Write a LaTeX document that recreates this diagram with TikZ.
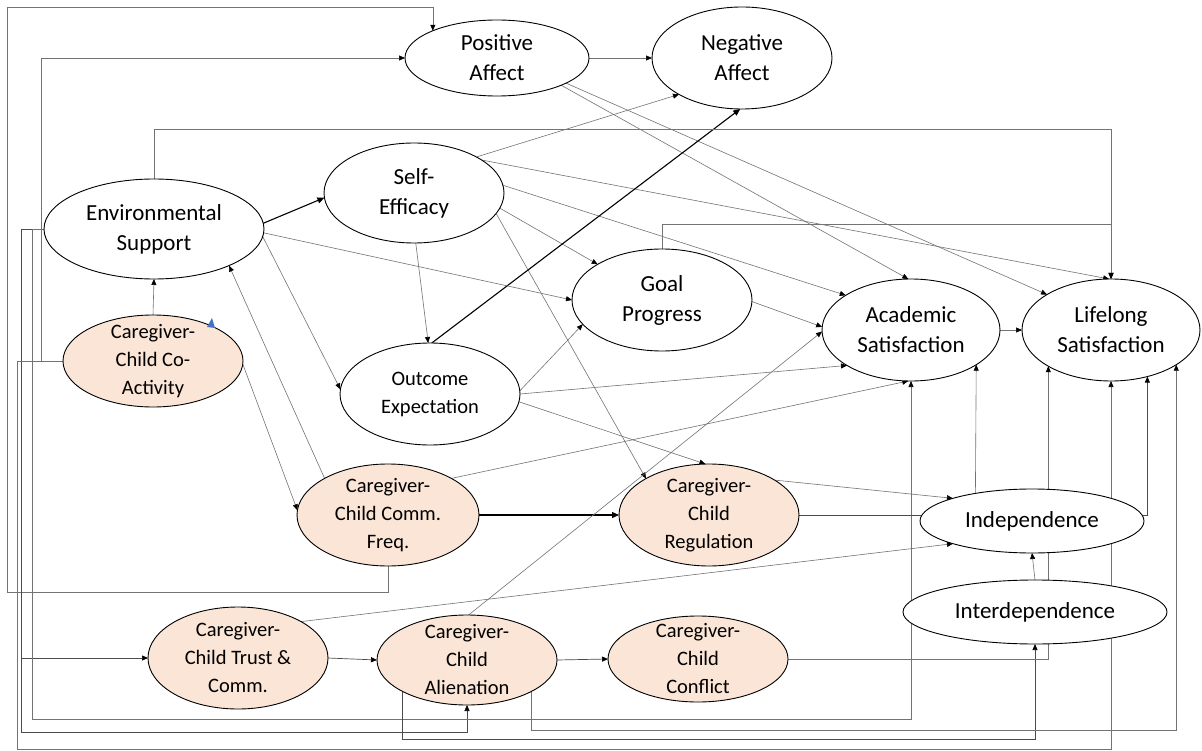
\documentclass[tikz,border=0pt]{standalone}
\usepackage{fontspec}
\setmainfont{Carlito}
\usetikzlibrary{arrows.meta,shapes.geometric}
\pgfdeclarelayer{bg}
\pgfdeclarelayer{back}
\pgfsetlayers{back,bg,main}
\definecolor{peachc}{RGB}{251,229,214}
\begin{document}
\begin{tikzpicture}[x=1pt,y=-1pt,
  ell/.style={ellipse, draw=black, line width=0.9pt, fill=white, inner sep=0pt, outer sep=0pt},
  peach/.style={ell, fill=peachc},
  sz/.style 2 args={minimum width=#1pt, minimum height=#2pt},
  big/.style={font=\fontsize{23}{30}\selectfont, align=center, inner sep=0pt},
  small/.style={font=\fontsize{20.5}{28}\selectfont, align=center, inner sep=0pt},
  conn/.style={draw=black!55, line width=0.6pt, -{Triangle[length=6pt,width=5pt,color=black]}},
  strong/.style={draw=black, line width=1.1pt, -{Triangle[length=7pt,width=6pt,color=black]}},
  mid/.style={draw=black!70, line width=0.7pt, -{Triangle[length=6pt,width=5pt,color=black]}}
]
\useasboundingbox (0,0) rectangle (1202,751);
\begin{pgfonlayer}{back}
\fill[white] (0,0) rectangle (1202,751);
\end{pgfonlayer}

% nodes
\node[ell, sz={184}{76}] (pa) at (497,58) {};
\node[big] (pa-t) at (pa) {Positive\\Affect};
\node[ell, sz={180}{102}] (na) at (742,58) {};
\node[big] (na-t) at (na) {Negative\\Affect};
\node[ell, sz={220}{100}] (env) at (154,229) {};
\node[big] (env-t) at (env) {Environmental\\Support};
\node[ell, sz={180}{100}] (se) at (414,193) {};
\node[big] (se-t) at (se) {Self-\\Efficacy};
\node[peach, sz={180}{92}] (coact) at (153,361) {};
\node[small] (coact-t) at (coact) {Caregiver-\\Child Co-\\Activity};
\node[ell, sz={180}{102}] (oe) at (430,394) {};
\node[small] (oe-t) at (oe) {Outcome\\Expectation};
\node[ell, sz={180}{102}] (gp) at (662,300) {};
\node[big] (gp-t) at (gp) {Goal\\Progress};
\node[ell, sz={178}{102}] (as) at (911,330) {};
\node[big] (as-t) at (as) {Academic\\Satisfaction};
\node[ell, sz={178}{102}] (ls) at (1111,330) {};
\node[big] (ls-t) at (ls) {Lifelong\\Satisfaction};
\node[peach, sz={182}{102}] (cf) at (388,515) {};
\node[small] (cf-t) at (cf) {Caregiver-\\Child Comm.\\Freq.};
\node[peach, sz={180}{102}] (reg) at (709,515) {};
\node[small] (reg-t) at (reg) {Caregiver-\\Child\\Regulation};
\node[ell, sz={224}{64}] (ind) at (1032,521) {};
\node[big] (ind-t) at (ind) {Independence};
\node[ell, sz={264}{64}] (inter) at (1035,612) {};
\node[big] (inter-t) at (inter) {Interdependence};
\node[peach, sz={180}{102}] (trust) at (238,658) {};
\node[small] (trust-t) at (trust) {Caregiver-\\Child Trust \&\\Comm.};
\node[peach, sz={180}{90}] (ali) at (467,660) {};
\node[small] (ali-t) at (ali) {Caregiver-\\Child\\Alienation};
\node[peach, sz={180}{86}] (con) at (698,659) {};
\node[small] (con-t) at (con) {Caregiver-\\Child\\Conflict};

\fill[fill={rgb,255:red,68;green,114;blue,196}] (207,327) -- (212,318) -- (215,328) -- cycle;

\begin{pgfonlayer}{bg}
\draw[conn] (pa.east) -- (na.west);
\draw[conn] (pa.-23) -- (as.93);
\draw[conn] (pa.-20) -- (ls.151);
\draw[conn] (se.30) -- (na.210);
\draw[conn] (se.26) -- (ls.92);
\draw[conn] (se.5) -- (as.152);
\draw[conn] (se.-10) -- (gp.151);
\draw[conn] (se.-14) -- (reg.150);
\draw[conn] (se.-88) -- (oe.92);
\draw[strong] (oe.88) -- (na.-92);
\draw[conn] (oe.2) -- (gp.-163);
\draw[conn] (oe.0) -- (as.-151);
\draw[conn] (oe.-5) -- (reg.94);
\draw[conn] (gp.-1) -- (as.178);
\draw[conn] (gp.north) -- ++(0,-25) -| (ls.north);
\draw[conn] (env.north) -- ++(0,-50) -| (ls.north);
\draw[strong] (env.3) -- (se.183);
\draw[conn] (env.-2) -- (gp.west);
\draw[conn] (env.-4) -- (oe.177);
\draw[conn] (cf.150) -- (env.-26);
\draw[conn] (coact.-2) -- (cf.177);
\draw[conn] (coact.north) -- (env.south);
\draw[conn] (coact.west) -- ++(-22,0) |- (pa.west);
\draw[conn] (cf.south) -- ++(0,26) -| (7,7) -| (pa.157);
\draw[mid] (env.west) -- ++(-23,0) |- (trust.west);
\draw[mid] (env.west) -- ++(-23,0) -- ++(0,503) -| (ali.south);
\draw[conn] (env.west) -- ++(-12,0) -- ++(0,490) -| (as.south);
\draw[conn] (coact.west) -- ++(-46,0) -- ++(0,388) -| (ls.south);
\draw[strong] (cf.east) -- (reg.west);
\draw[conn] (cf.30) -- (as.-93);
\draw[mid] (trust.east) -- (ali.west);
\draw[conn] (trust.30) -- (ind.-164);
\draw[mid] (ali.east) -- (con.west);
\draw[conn] (ali.88) -- (as.181);
\draw[mid] (ali.-154) -- ++(0,48) -| (inter.south);
\draw[conn] (ali.-26) -- ++(0,39) -| (ls.-28);
\draw[conn] (con.east) -| (ls.-150);
\draw[conn] (reg.28) -- (ind.164);
\draw[mid] (reg.east) -| (ls.-52);
\draw[conn] (ind.154) -- (as.-28);
\draw[conn] (inter.north) -- (ind.south);
\draw[conn] (as.east) -- (ls.west);
\end{pgfonlayer}
\end{tikzpicture}
\end{document}
